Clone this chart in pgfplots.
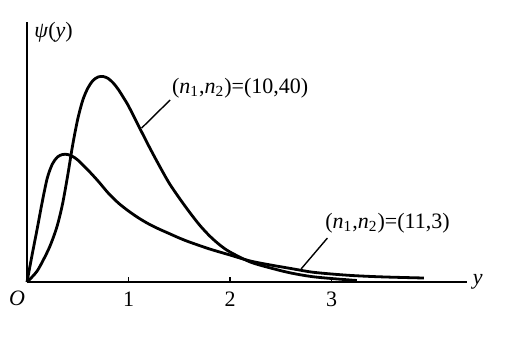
\documentclass[border=0pt]{standalone}
\usepackage{fontspec}
\setmainfont{Liberation Serif}
\usepackage{pgfplots}
\pgfplotsset{compat=1.18}
\begin{document}
\begin{tikzpicture}[font=\fontsize{11}{13}\selectfont]
\begin{axis}[
  anchor=origin, at={(0pt,0pt)},
  x=50.75pt, y=50pt,
  xmin=0, xmax=4.33, ymin=0, ymax=2.6,
  enlargelimits=false,
  axis lines=left,
  axis line style={-, line width=0.8pt},
  xtick={1,2,3}, ytick=\empty,
  xtick align=inside,
  major tick length=2.5pt,
  major tick style={line width=0.6pt, black},
  xticklabel style={anchor=north, yshift=-1.5pt},
  /pgf/number format/assume math mode=true,
  clip=false,
]
% (n1,n2)=(10,40)
\addplot[line width=1.4pt, smooth] coordinates {
 (0,0) (0.1,0.11) (0.2,0.30) (0.25,0.42) (0.3,0.57) (0.35,0.78) (0.4,1.06)
 (0.45,1.37) (0.5,1.63) (0.55,1.82) (0.6,1.94) (0.65,2.015) (0.7,2.05)
 (0.75,2.055) (0.8,2.035) (0.85,1.99) (0.9,1.925) (0.95,1.845) (1.0,1.76)
 (1.1,1.56) (1.2,1.36) (1.3,1.17) (1.4,0.99) (1.5,0.84) (1.6,0.70)
 (1.7,0.57) (1.8,0.46) (1.9,0.37) (2.0,0.30) (2.2,0.20) (2.4,0.14)
 (2.6,0.09) (2.8,0.055) (3.0,0.035) (3.25,0.015)
};
% (n1,n2)=(11,3)
\addplot[line width=1.4pt, smooth] coordinates {
 (0,0) (0.05,0.27) (0.1,0.53) (0.15,0.80) (0.2,1.04) (0.25,1.18) (0.3,1.25)
 (0.35,1.275) (0.4,1.275) (0.45,1.255) (0.5,1.22) (0.6,1.12) (0.7,1.01)
 (0.8,0.89) (0.9,0.79) (1.0,0.71) (1.1,0.64) (1.2,0.58) (1.3,0.53)
 (1.4,0.485) (1.5,0.44) (1.6,0.40) (1.8,0.33) (2.0,0.27) (2.2,0.21)
 (2.4,0.17) (2.6,0.135) (2.8,0.10) (3.0,0.08) (3.2,0.065) (3.4,0.055)
 (3.6,0.048) (3.91,0.04)
};
\draw[line width=0.7pt] (axis cs:1.13,1.54) -- (axis cs:1.41,1.82);
\node[anchor=west] at (axis cs:1.36,1.94) {(\textit{n}\textsubscript{1},\textit{n}\textsubscript{2})=(10,40)};
\draw[line width=0.7pt] (axis cs:2.70,0.13) -- (axis cs:2.96,0.44);
\node[anchor=west] at (axis cs:2.87,0.59) {(\textit{n}\textsubscript{1},\textit{n}\textsubscript{2})=(11,3)};
\node[anchor=west, inner sep=0pt] at ([xshift=3pt]axis cs:4.33,0) {\textit{y}};
\node[anchor=west, inner sep=0pt] at ([xshift=3.5pt]axis cs:0,2.5) {\textit{ψ}(\textit{y})};
\node[inner sep=0pt] at ([xshift=-5pt,yshift=-8pt]axis cs:0,0) {\textit{O}};
\end{axis}
\useasboundingbox (-13.5pt,-28.5pt) rectangle (240.5pt,141pt);
\end{tikzpicture}
\end{document}
